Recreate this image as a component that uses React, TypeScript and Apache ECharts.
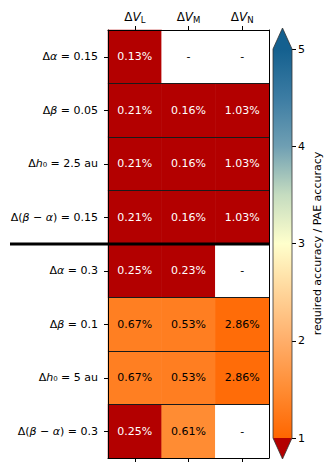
import React, { useEffect, useRef } from 'react';
import * as echarts from 'echarts';

const rowLabels = ['Δα = 0.15', 'Δβ = 0.05', 'Δh₀ = 2.5 au', 'Δ(β − α) = 0.15', 'Δα = 0.3', 'Δβ = 0.1', 'Δh₀ = 5 au', 'Δ(β − α) = 0.3'];
const colLabels = ['L', 'M', 'N'];
const pctL = ['0.13%', '0.21%', '0.21%', '0.21%', '0.25%', '0.67%', '0.67%', '0.25%'];
const pctM = ['-', '0.16%', '0.16%', '0.16%', '0.23%', '0.53%', '0.53%', '0.61%'];
const pctN = ['-', '1.03%', '1.03%', '1.03%', '-', '2.86%', '2.86%', '-'];
const ratioL = [0.35, 0.55, 0.55, 0.55, 0.7, 1.33, 1.33, 0.7];
const ratioM: (number | null)[] = [null, 0.6, 0.6, 0.6, 0.75, 1.32, 1.32, 1.5];
const ratioN: (number | null)[] = [null, 0.5, 0.5, 0.5, null, 1.08, 1.08, null];
const cbMin = 1;
const cbMax = 5;
const cbTicks = [1, 2, 3, 4, 5];
// colormap stops at 1.0, 1.5, ..., 5.0
const cmapColors = ['#ff6600', '#ff8c33', '#ffae6a', '#ffd59a', '#ffffcc', '#c5dcc0', '#6f9fb3', '#3c7ca3', '#14608f'];
const underColor = '#b30000';
const overColor = '#14608f';
const nanColor = '#ffffff';

const FONT = 'DejaVu Sans';

export default function App() {
  const ref = useRef<HTMLDivElement>(null);
  useEffect(() => {
    document.body.style.margin = '0';
    const chart = echarts.init(ref.current!, null, { renderer: 'svg' });
    const cols = [ratioL, ratioM, ratioN];
    const pcts = [pctL, pctM, pctN];
    const data: any[] = [];
    const missing: any[] = [];
    cols.forEach((arr, ci) => {
      arr.forEach((v, ri) => {
        if (v == null) {
          missing.push({ value: [ci, ri, 0] });
        } else {
          data.push({ value: [ci, ri, v], label: { color: v < cbMin ? '#fff' : '#000' } });
        }
      });
    });
    const gl = 108, gt = 30, gw = 161, gh = 428;
    const cl = 273, ct = 49, cw = 19, ch = 389;
    const rowH = gh / rowLabels.length;
    const italicize = (s: string) => s.replace(/([αβh])/g, '{i|$1}');
    const labelFmt = (p: any) => pcts[p.value[0]][p.value[1]];
    const stops = cmapColors.map((c, i) => ({ offset: 1 - i / (cmapColors.length - 1), color: c })).reverse();
    // visualMap extent starts at 0 so values below cbMin fall outside the selected range
    const vmColors = [cmapColors[0], cmapColors[0], ...cmapColors];

    chart.setOption({
      animation: false,
      textStyle: { fontFamily: FONT },
      grid: [
        { left: gl, top: gt, width: gw, height: gh },
        { left: cl, top: ct, width: cw, height: ch },
      ],
      xAxis: [
        {
          type: 'category', gridIndex: 0, position: 'top', data: colLabels, z: 5,
          axisLine: { show: true, lineStyle: { color: '#000', width: 1 } },
          axisTick: { show: true, alignWithLabel: true, length: 4, lineStyle: { color: '#000' } },
          axisLabel: {
            interval: 0, margin: 6, color: '#000', fontSize: 12, fontFamily: FONT,
            formatter: (v: string) => `Δ{i|V}{s|${v}}`,
            rich: {
              i: { fontStyle: 'italic', fontSize: 12, fontFamily: FONT, color: '#000', lineHeight: 15 },
              s: { fontSize: 8.5, fontFamily: FONT, color: '#000', verticalAlign: 'bottom', lineHeight: 15, padding: [4, 0, 0, 0] },
            },
          },
          splitLine: { show: false },
        },
        {
          type: 'category', gridIndex: 0, position: 'bottom', data: colLabels, z: 5,
          axisLine: { show: true, lineStyle: { color: '#000', width: 1 } },
          axisTick: { show: true, alignWithLabel: true, length: 4, lineStyle: { color: '#000' } },
          axisLabel: { show: false },
          splitLine: { show: false },
        },
        { type: 'category', gridIndex: 1, data: [''], show: false },
      ],
      yAxis: [
        {
          type: 'category', gridIndex: 0, data: rowLabels, inverse: true, position: 'left', z: 5,
          axisLine: { show: true, lineStyle: { color: '#000', width: 1 } },
          axisTick: { show: true, alignWithLabel: true, length: 4, lineStyle: { color: '#000' } },
          axisLabel: {
            interval: 0, margin: 10, color: '#000', fontSize: 11, fontFamily: FONT,
            formatter: (v: string) => italicize(v),
            rich: { i: { fontStyle: 'italic', fontSize: 11, fontFamily: FONT, color: '#000' } },
          },
          splitLine: { show: true, lineStyle: { color: '#1a1a1a', width: 1 } },
        },
        {
          type: 'category', gridIndex: 0, data: rowLabels, inverse: true, position: 'right', z: 5,
          axisLine: { show: true, lineStyle: { color: '#000', width: 1 } },
          axisTick: { show: false }, axisLabel: { show: false }, splitLine: { show: false },
        },
        {
          type: 'value', gridIndex: 1, min: cbMin, max: cbMax, interval: 1, position: 'right', z: 5,
          axisLine: { show: false },
          axisTick: { show: true, length: 4, lineStyle: { color: '#000' } },
          axisLabel: { margin: 6, color: '#000', fontSize: 11, fontFamily: FONT, formatter: (v: number) => (cbTicks.includes(v) ? String(v) : '') },
          splitLine: { show: false },
          name: 'required accuracy / PAE accuracy',
          nameLocation: 'middle', nameRotate: 90, nameGap: 20,
          nameTextStyle: { color: '#000', fontSize: 11, fontFamily: FONT },
        },
      ],
      visualMap: [
        {
          type: 'continuous', show: false, min: 0, max: cbMax, range: [cbMin, cbMax], seriesIndex: 0, dimension: 2,
          inRange: { color: vmColors }, outOfRange: { color: underColor },
        },
        {
          type: 'continuous', show: false, min: 0, max: 1, seriesIndex: 1, dimension: 2,
          inRange: { color: [nanColor, nanColor] }, outOfRange: { color: nanColor },
        },
      ],
      series: [
        {
          type: 'heatmap', xAxisIndex: 0, yAxisIndex: 0, data,
          label: { show: true, fontSize: 11, fontFamily: FONT, formatter: labelFmt },
          emphasis: { disabled: true },
        },
        {
          type: 'heatmap', xAxisIndex: 0, yAxisIndex: 0, data: missing,
          label: { show: true, fontSize: 11, fontFamily: FONT, color: '#000', formatter: labelFmt },
          emphasis: { disabled: true },
        },
        {
          type: 'bar', xAxisIndex: 2, yAxisIndex: 2, stack: 'cb', data: [cbMin], barWidth: '100%',
          itemStyle: { color: 'rgba(0,0,0,0)' }, silent: true,
        },
        {
          type: 'bar', xAxisIndex: 2, yAxisIndex: 2, stack: 'cb', data: [cbMax - cbMin], barWidth: '100%', silent: true,
          itemStyle: { color: new echarts.graphic.LinearGradient(0, 0, 0, 1, stops) },
        },
      ],
      graphic: [
        { type: 'polygon', shape: { points: [[cl, ct], [cl + cw, ct], [cl + cw / 2, ct - 21]] }, style: { fill: overColor }, silent: true },
        { type: 'polygon', shape: { points: [[cl, ct + ch], [cl + cw, ct + ch], [cl + cw / 2, ct + ch + 21]] }, style: { fill: underColor }, silent: true },
        {
          type: 'polygon', z: 10,
          shape: { points: [[cl + cw / 2, ct - 21], [cl + cw, ct], [cl + cw, ct + ch], [cl + cw / 2, ct + ch + 21], [cl, ct + ch], [cl, ct]] },
          style: { fill: 'none', stroke: '#333', lineWidth: 0.8 }, silent: true,
        },
        { type: 'line', z: 10, shape: { x1: 10, y1: gt + 4 * rowH, x2: gl + gw, y2: gt + 4 * rowH }, style: { stroke: '#000', lineWidth: 3 }, silent: true },
      ],
    });
    return () => chart.dispose();
  }, []);
  return <div ref={ref} style={{ width: 335, height: 474 }} />;
}
